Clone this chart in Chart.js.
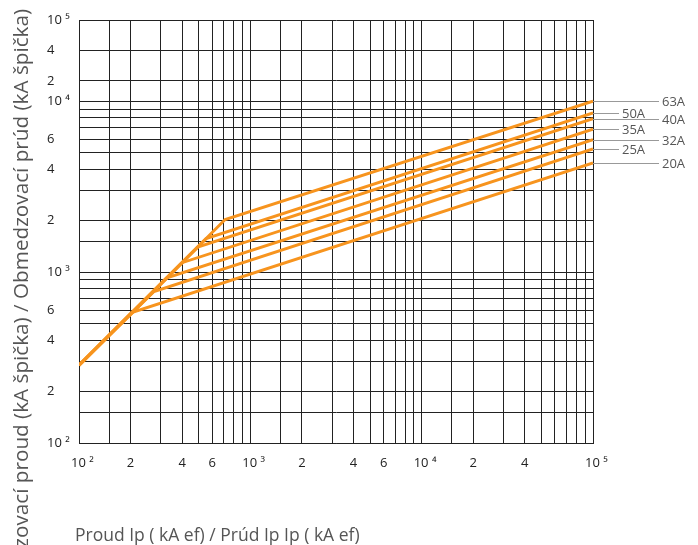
<!DOCTYPE html>
<html>
<head>
<meta charset="utf-8">
<script src="https://cdn.jsdelivr.net/npm/chart.js@4.4.0/dist/chart.umd.min.js"></script>
<style>
  html, body { margin: 0; padding: 0; background: #fff; }
</style>
</head>
<body>
<canvas id="chart" width="698" height="545"></canvas>
<script>
// ratings, top to bottom at the right edge
const ratings = ['63A', '50A', '40A', '35A', '32A', '25A', '20A'];
// all curves share the same starting point
const ipStart = 100;
const peakStart = 285;
// prospective current where each curve leaves the common line (kA ef)
const ipKnee = [713, 552, 493, 400, 326, 274, 203];
const peakKnee = [2030, 1570, 1400, 1135, 925, 770, 580];
// end of the curves
const ipEnd = 100000;
const peakEnd = [10000, 8550, 7900, 6850, 5950, 5250, 4350];

// grid lines and their labels
const xGrid = [100, 150, 200, 300, 400, 500, 600, 700, 800, 900,
               1000, 1500, 2000, 3000, 4000, 5000, 6000, 7000, 8000, 9000,
               10000, 15000, 20000, 30000, 40000, 50000, 60000, 70000, 80000, 90000, 100000];
const xLabels = {100: '  10 ²', 200: '2', 400: '4', 600: '6', 1000: '  10 ³', 2000: '2', 4000: '4', 6000: '6',
                 10000: '  10 ⁴', 20000: '2', 40000: '4', 100000: '  10 ⁵'};
const yGrid = [100, 150, 200, 300, 400, 500, 600, 700, 800, 900,
               1000, 1500, 2000, 3000, 4000, 5000, 6000, 7000, 8000, 9000,
               10000, 20000, 40000, 100000];
const yLabels = {100: '10 ²', 200: '2', 400: '4', 600: '6', 1000: '10 ³', 2000: '2', 4000: '4', 6000: '6',
                 10000: '10 ⁴', 20000: '2', 40000: '4', 100000: '10 ⁵'};

// the printed y axis squeezes the top decade, so map values piecewise in log space
const yKnots = [[100, 2], [10000, 4], [20000, 4.119], [40000, 4.299], [100000, 4.475]];
function yPos(v) {
    const l = Math.log10(v);
    for (let i = 1; i < yKnots.length; i++) {
        const a = yKnots[i - 1], b = yKnots[i];
        if (v <= b[0] || i == yKnots.length - 1) {
            const la = Math.log10(a[0]), lb = Math.log10(b[0]);
            return a[1] + (l - la) / (lb - la) * (b[1] - a[1]);
        }
    }
}

const orange = '#F7941E';
const gridColor = '#222';
const textColor = '#555';

let datasets = [];
for (let i = 0; i < ratings.length; i++) {
    datasets.push({
        label: ratings[i],
        data: [
            {x: ipStart, y: yPos(peakStart)},
            {x: ipKnee[i], y: yPos(peakKnee[i])},
            {x: ipEnd, y: yPos(peakEnd[i])}
        ],
        borderColor: orange,
        borderWidth: 3,
        pointRadius: 0,
        tension: 0,
        fill: false
    });
}

const sideLabels = {
    id: 'sideLabels',
    afterDatasetsDraw(chart) {
        const {ctx, chartArea, scales: {y}} = chart;
        ctx.save();
        ctx.font = '13px "Open Sans"';
        ctx.textBaseline = 'middle';
        ctx.textAlign = 'left';
        chart.data.datasets.forEach((ds, i) => {
            const py = Math.round(y.getPixelForValue(ds.data[ds.data.length - 1].y)) + 0.5;
            const len = i % 2 == 0 ? 66 : 26;
            ctx.strokeStyle = '#999';
            ctx.lineWidth = 1;
            ctx.beginPath();
            ctx.moveTo(chartArea.right, py);
            ctx.lineTo(chartArea.right + len, py);
            ctx.stroke();
            ctx.fillStyle = textColor;
            ctx.fillText(ratings[i], chartArea.right + len + 3, py + 1);
        });
        // axis titles
        ctx.fillStyle = textColor;
        ctx.font = '17.5px "Open Sans"';
        ctx.textBaseline = 'alphabetic';
        ctx.fillText('Proud Ip ( kA ef) / Prúd Ip Ip ( kA ef)', 75, 541);
        ctx.translate(28, 9);
        ctx.rotate(-Math.PI / 2);
        ctx.textAlign = 'right';
        ctx.font = '20.7px "Open Sans"';
        ctx.fillText('Omezovací proud (kA špička) / Obmedzovací prúd (kA špička)', 0, 0);
        ctx.restore();
    }
};

const ctx = document.getElementById('chart').getContext('2d');
const chart = new Chart(ctx, {
    type: 'line',
    data: { datasets: datasets },
    options: {
        responsive: false,
        animation: false,
        devicePixelRatio: 1,
        layout: { padding: { left: 47, top: 20, right: 105, bottom: 0 } },
        plugins: { legend: { display: false }, tooltip: { enabled: false } },
        scales: {
            x: {
                type: 'logarithmic',
                min: 100,
                max: 100000,
                afterFit: (scale) => { scale.height = 102; },
                afterBuildTicks: (scale) => { scale.ticks = xGrid.map(v => ({value: v})); },
                grid: { color: gridColor, lineWidth: 1, drawTicks: false },
                border: { color: gridColor, width: 1 },
                ticks: {
                    autoSkip: false,
                    maxRotation: 0,
                    padding: 12,
                    color: '#222',
                    font: { family: 'Open Sans', size: 13 },
                    callback: (value) => xLabels[value] || ''
                }
            },
            y: {
                type: 'linear',
                min: 2,
                max: yPos(100000),
                afterFit: (scale) => { scale.width = 32; },
                afterBuildTicks: (scale) => { scale.ticks = yGrid.map(v => ({value: yPos(v)})); },
                grid: { color: gridColor, lineWidth: 1, drawTicks: false },
                border: { color: gridColor, width: 1 },
                ticks: {
                    autoSkip: false,
                    crossAlign: 'far',
                    color: '#222',
                    font: { family: 'Open Sans', size: 13 },
                    callback: (value, index) => yLabels[yGrid[index]] || ''
                }
            }
        }
    },
    plugins: [sideLabels]
});
</script>
</body>
</html>
